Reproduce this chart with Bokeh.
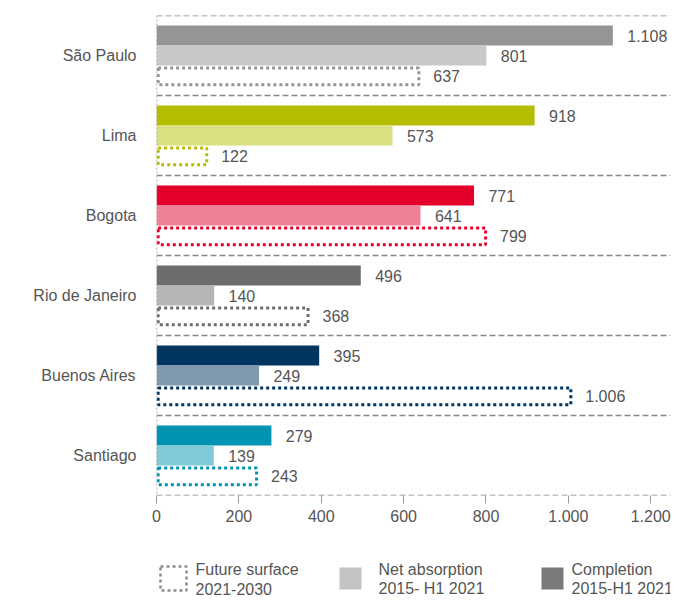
from bokeh.plotting import figure
from bokeh.layouts import column
from bokeh.models import Range1d, FixedTicker, Span, ColumnDataSource
from bokeh.core.properties import value
from bokeh.embed import file_html
from bokeh.resources import INLINE

cities = ["São Paulo", "Lima", "Bogota", "Rio de Janeiro", "Buenos Aires", "Santiago"]
completion = [1108, 918, 771, 496, 395, 279]
absorption = [801, 573, 641, 140, 249, 139]
future = [637, 122, 799, 368, 1006, 243]
dark_colors = ["#959595", "#b5bd00", "#e4002b", "#6d6d6d", "#003560", "#0093b2"]
light_colors = ["#c8c8c8", "#dadf80", "#f08096", "#b6b6b6", "#7f9aaf", "#80c9d8"]
x_ticks = [0, 200, 400, 600, 800, 1000, 1200]

FONT = "Liberation Sans"
TXT = "#555555"


def fmt(v):
    return f"{v:,}".replace(",", ".")


n = len(cities)
tops = [n - i for i in range(n)]

p = figure(frame_width=514, frame_height=480, x_range=Range1d(0, 1248), y_range=Range1d(0, n),
           output_backend="svg", toolbar_location=None, min_border_left=156,
           min_border_top=15, min_border_right=17, min_border_bottom=35)
p.outline_line_color = None
p.grid.visible = False

segments = [(0.125, 0.375, completion, dark_colors, True),
            (0.375, 0.625, absorption, light_colors, True),
            (0.655, 0.865, future, dark_colors, False)]
for a, b, vals, cols, filled in segments:
    src = ColumnDataSource(dict(top=[t - a for t in tops], bottom=[t - b for t in tops],
                                right=vals, color=cols,
                                ty=[t - (a + b) / 2 for t in tops],
                                tx=[v + 35 for v in vals], label=[fmt(v) for v in vals]))
    if filled:
        p.quad(left=0, right="right", top="top", bottom="bottom", source=src,
               fill_color="color", line_color=None)
    else:
        p.quad(left=4, right="right", top="top", bottom="bottom", source=src,
               fill_color=None, line_color="color", line_width=3, line_dash="3 3")
    p.text(x="tx", y="ty", text="label", source=src, text_font=value(FONT),
           text_font_size="16px", text_color=TXT, text_baseline="middle")

for k in range(n + 1):
    p.add_layout(Span(location=k, dimension="width", line_color="#888888",
                      line_dash="6 3", line_width=1.5))
p.add_layout(Span(location=0, dimension="height", line_color="#999999",
                  line_dash="2 2", line_width=1.5))

p.yaxis.ticker = FixedTicker(ticks=[t - 0.5 for t in tops])
p.yaxis.major_label_overrides = {t - 0.5: c for t, c in zip(tops, cities)}
p.yaxis.axis_line_color = None
p.yaxis.major_tick_line_color = None
p.yaxis.major_label_text_font = FONT
p.yaxis.major_label_text_font_size = "16px"
p.yaxis.major_label_text_color = TXT
p.yaxis.major_label_standoff = 14

p.xaxis.ticker = FixedTicker(ticks=x_ticks)
p.xaxis.major_label_overrides = {t: fmt(t) for t in x_ticks}
p.xaxis.axis_line_color = None
p.xaxis.major_tick_line_color = "#999999"
p.xaxis.major_tick_out = 8
p.xaxis.major_tick_in = 0
p.xaxis.minor_tick_line_color = None
p.xaxis.major_label_text_font = FONT
p.xaxis.major_label_text_font_size = "16px"
p.xaxis.major_label_text_color = TXT
p.xaxis.major_label_standoff = 6

# legend (frame aligned with the main plot, pixel coordinates)
lg = figure(frame_width=514, frame_height=66, x_range=Range1d(156, 670), y_range=Range1d(66, 0),
            output_backend="svg", toolbar_location=None, min_border_left=156,
            min_border_right=17, min_border_top=0, min_border_bottom=0)
lg.axis.visible = False
lg.grid.visible = False
lg.outline_line_color = None
lg.quad(left=[160], right=[186], top=[36], bottom=[60], fill_color=None,
        line_color="#8c8c8c", line_width=2.5, line_dash="3 3")
lg.quad(left=[339, 541], right=[361, 563], top=[37, 37], bottom=[59, 59],
        fill_color=["#c3c3c3", "#7a7a7a"], line_color=None)
lg.text(x=[195, 195, 378, 378, 571, 571], y=[39, 58, 39, 58, 39, 58],
        text=["Future surface", "2021-2030", "Net absorption", "2015- H1 2021",
              "Completion", "2015-H1 2021"],
        text_font=value(FONT), text_font_size="16px", text_color=TXT,
        text_baseline="middle")

layout = column(p, lg, spacing=0)
open("out.html", "w").write(file_html(layout, INLINE))
